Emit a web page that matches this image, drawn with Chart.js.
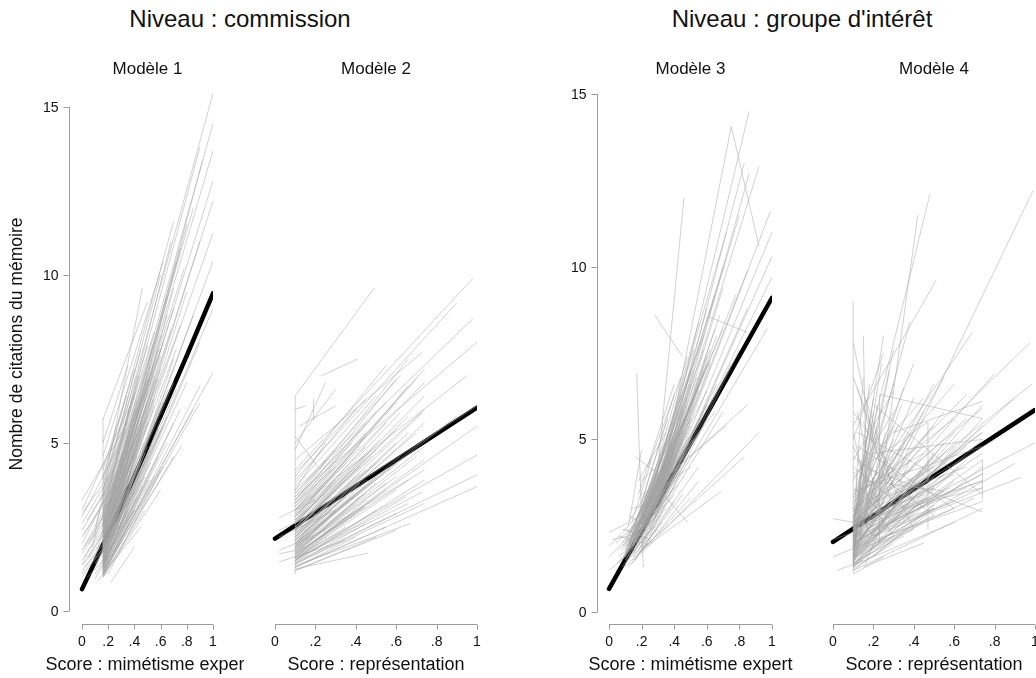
<!DOCTYPE html>
<html>
<head>
<meta charset="utf-8">
<script src="https://cdn.jsdelivr.net/npm/chart.js@4.4.1/dist/chart.umd.min.js"></script>
<style>
  body { margin: 0; background: #fff; }
  #wrap { position: relative; width: 1036px; height: 678px; overflow: hidden; }
  canvas { position: absolute; top: 0; }
  .hdr { position: absolute; top: 7px; width: 400px; text-align: center;
         font: 24px "Liberation Sans", Arial, sans-serif; line-height: 24px; color: #111; }
</style>
</head>
<body>
<div id="wrap">
  <div class="hdr" id="hdr1" style="left:40px"></div>
  <div class="hdr" id="hdr2" style="left:602px"></div>
  <canvas id="p1" width="244" height="678" style="left:0px"></canvas>
  <canvas id="p2" width="296" height="678" style="left:244px"></canvas>
  <canvas id="p3" width="256" height="678" style="left:540px"></canvas>
  <canvas id="p4" width="246" height="678" style="left:790px"></canvas>
</div>
<script>
// axis ticks and labels
const xTicks = [0, 0.2, 0.4, 0.6, 0.8, 1];
const xTickLabels = ['0', '.2', '.4', '.6', '.8', '1'];
const yTicks = [0, 5, 10, 15];
const yTickLabels = ['0', '5', '10', '15'];

const levelTitles = ['Niveau : commission', "Niveau : groupe d'intérêt"];
const modelTitles = ['Modèle 1', 'Modèle 2', 'Modèle 3', 'Modèle 4'];
const xTitles = ['Score : mimétisme expert', 'Score : représentation', 'Score : mimétisme expert', 'Score : représentation'];
const yTitle = 'Nombre de citations du mémoire';

// average predicted curve for each model
const fitX1 = [0, 0.2, 0.4, 0.6, 0.8, 1];
const fitY1 = [0.65, 2.3, 4.0, 5.8, 7.6, 9.45];
const fitX2 = [0, 1];
const fitY2 = [2.15, 6.05];
const fitX3 = [0, 1];
const fitY3 = [0.67, 9.1];
const fitX4 = [0, 1];
const fitY4 = [2.03, 5.85];

// one predicted line per group: [x start, y start, x end, y end]
const seg1 = [
  [0, 3.3, 0.35, 5.6], [0, 2.8, 0.45, 6.2], [0, 2.4, 0.4, 5.0], [0, 2.0, 0.5, 5.8],
  [0, 1.7, 0.38, 3.9], [0, 1.5, 0.45, 4.4], [0, 1.2, 0.3, 2.6], [0, 1.0, 0.35, 2.9],
  [0, 3.0, 0.4, 6.4], [0, 2.6, 0.3, 4.6], [0, 2.2, 0.35, 4.4], [0, 1.8, 0.42, 4.8],
  [0, 1.4, 0.4, 3.5], [0, 1.1, 0.45, 3.2], [0.05, 1.6, 0.35, 3.6], [0.05, 2.0, 0.4, 4.6],
  [0.1, 1.1, 0.4, 3.0], [0.1, 1.4, 0.45, 3.9],
  [0.08, 1.9, 0.46, 9.6], [0.1, 2.5, 0.55, 8.3], [0.1, 1.6, 0.5, 6.9], [0.1, 0.95, 0.5, 3.9],
  [0.1, 1.3, 0.6, 5.4], [0.1, 2.2, 0.6, 7.8], [0.12, 0.9, 0.45, 2.5],
  [0.16, 5.7, 0.5, 9.2], [0.16, 4.6, 0.62, 10.4], [0.16, 3.9, 0.7, 11.6], [0.16, 3.4, 1.0, 15.4],
  [0.16, 3.0, 0.9, 13.8], [0.16, 2.8, 1.0, 14.5], [0.16, 2.6, 0.85, 12.0], [0.16, 2.5, 1.0, 13.7],
  [0.16, 2.3, 0.92, 13.4], [0.16, 2.2, 1.0, 12.8], [0.16, 2.1, 0.8, 11.5], [0.16, 2.0, 1.0, 12.2],
  [0.16, 1.9, 0.75, 10.8], [0.16, 1.85, 1.0, 11.25], [0.16, 1.8, 0.7, 9.6], [0.16, 1.75, 0.9, 11.0],
  [0.16, 1.7, 0.65, 8.8], [0.16, 1.6, 0.8, 9.5], [0.16, 1.55, 1.0, 10.4], [0.16, 1.5, 0.6, 7.6],
  [0.16, 1.45, 0.85, 8.8], [0.16, 1.4, 0.55, 6.6], [0.16, 1.35, 1.0, 9.0], [0.16, 1.3, 0.7, 7.5],
  [0.16, 1.25, 0.9, 8.0], [0.16, 1.2, 0.6, 5.7], [0.16, 1.15, 1.0, 7.1], [0.16, 1.1, 0.75, 6.0],
  [0.16, 1.1, 0.9, 6.2], [0.16, 1.3, 0.5, 4.6], [0.16, 1.5, 0.45, 4.5], [0.16, 1.7, 0.45, 5.4],
  [0.16, 2.0, 0.5, 6.5], [0.16, 2.4, 0.55, 7.4], [0.16, 2.7, 0.6, 8.2], [0.16, 3.2, 0.55, 8.0],
  [0.16, 1.2, 0.76, 4.9], [0.16, 1.0, 0.6, 3.6], [0.16, 1.6, 0.65, 5.8], [0.16, 1.9, 0.7, 6.8],
  [0.16, 2.2, 0.75, 8.5], [0.16, 1.4, 0.8, 6.8], [0.16, 2.5, 0.65, 9.4], [0.16, 3.6, 0.6, 10.0],
  [0.16, 2.9, 0.68, 11.0], [0.16, 1.8, 0.55, 7.0], [0.2, 1.1, 0.62, 4.3], [0.22, 0.85, 0.4, 1.9],
  [0.16, 1.05, 0.9, 6.7], [0.16, 1.13, 0.16, 5.74],
  [0.16, 1.2, 0.42, 3.4], [0.16, 1.3, 0.48, 4.0], [0.16, 1.4, 0.5, 4.9], [0.16, 1.5, 0.52, 5.3],
  [0.16, 1.6, 0.47, 5.0], [0.16, 1.7, 0.55, 6.1], [0.16, 1.8, 0.5, 5.6], [0.16, 1.9, 0.58, 6.9],
  [0.16, 2.0, 0.45, 5.2], [0.16, 2.1, 0.6, 7.2], [0.16, 2.2, 0.5, 6.2], [0.16, 2.3, 0.62, 8.0],
  [0.16, 2.4, 0.48, 6.0], [0.16, 2.5, 0.58, 7.8], [0.16, 2.6, 0.44, 5.8], [0.16, 2.8, 0.52, 7.3],
  [0.16, 3.0, 0.46, 6.4], [0.16, 3.3, 0.5, 7.9], [0.16, 1.15, 0.55, 4.0], [0.16, 1.25, 0.65, 5.0],
  [0.16, 1.35, 0.7, 5.6], [0.16, 1.45, 0.62, 5.5], [0.16, 1.55, 0.72, 6.6], [0.16, 1.65, 0.58, 5.4],
  [0.16, 1.75, 0.66, 6.6], [0.16, 1.85, 0.62, 6.2], [0.16, 1.95, 0.72, 7.8], [0.16, 2.05, 0.55, 6.3],
  [0.16, 2.15, 0.68, 8.4], [0.16, 2.35, 0.7, 9.0], [0.16, 2.45, 0.78, 10.2], [0.16, 2.65, 0.72, 10.4],
  [0.16, 1.05, 0.48, 3.0], [0.16, 1.0, 0.7, 4.6], [0.16, 1.2, 0.85, 6.0], [0.16, 3.8, 0.42, 7.0],
  [0.16, 4.2, 0.4, 7.2], [0.16, 5.0, 0.35, 7.3],
  [0.16, 1.1, 0.4, 3.0], [0.16, 1.2, 0.46, 3.7], [0.16, 1.3, 0.4, 3.6], [0.16, 1.4, 0.44, 4.2],
  [0.16, 1.5, 0.4, 4.0], [0.16, 1.6, 0.42, 4.6], [0.16, 1.7, 0.38, 4.2], [0.16, 1.8, 0.46, 5.6],
  [0.16, 1.9, 0.4, 4.8], [0.16, 2.0, 0.42, 5.5], [0.16, 2.1, 0.38, 4.9], [0.16, 2.2, 0.44, 6.0],
  [0.16, 2.3, 0.4, 5.5], [0.16, 2.5, 0.42, 6.3], [0.16, 2.7, 0.4, 6.0], [0.16, 2.9, 0.44, 7.0],
  [0.16, 3.1, 0.4, 6.5], [0.16, 3.5, 0.45, 7.8], [0.16, 1.35, 0.58, 4.6], [0.16, 1.65, 0.52, 4.8],
  [0.16, 1.95, 0.6, 6.2], [0.16, 2.25, 0.56, 6.9], [0.16, 2.55, 0.52, 7.1], [0.16, 1.05, 0.6, 4.2],
  [0.16, 1.25, 0.52, 3.9],
  [0.16, 1.1, 0.36, 2.6], [0.16, 1.3, 0.34, 3.0], [0.16, 1.5, 0.36, 3.4], [0.16, 1.7, 0.34, 3.6],
  [0.16, 1.9, 0.36, 4.0], [0.16, 2.1, 0.34, 4.2], [0.16, 2.3, 0.36, 4.6], [0.16, 2.5, 0.34, 4.7],
  [0.16, 2.7, 0.36, 5.2], [0.16, 3.0, 0.34, 5.4], [0.16, 3.4, 0.36, 6.0], [0.16, 4.0, 0.34, 6.4],
  [0.02, 1.3, 0.16, 2.0], [0.02, 1.6, 0.16, 2.4], [0.02, 1.9, 0.16, 2.8], [0.02, 2.3, 0.16, 3.2],
  [0.04, 2.7, 0.16, 3.5], [0.04, 1.0, 0.16, 1.5], [0, 1.35, 0.25, 2.5], [0, 2.9, 0.2, 4.0],
  [0.16, 1.4, 0.52, 4.4], [0.16, 1.8, 0.48, 4.7], [0.16, 2.2, 0.46, 5.3], [0.16, 2.6, 0.5, 6.8]
];

const seg2 = [
  [0.1, 6.4, 0.49, 9.6], [0.1, 1.1, 0.1, 6.4], [0.23, 7.0, 0.41, 7.5], [0.19, 5.7, 0.19, 6.3],
  [0.1, 4.8, 0.25, 6.8], [0.1, 4.5, 0.73, 7.7], [0.1, 4.2, 0.98, 9.9], [0.1, 3.9, 0.9, 9.17],
  [0.1, 3.6, 0.98, 8.7], [0.1, 3.4, 1.0, 8.0], [0.1, 3.2, 0.6, 6.9], [0.1, 3.0, 0.5, 5.9],
  [0.1, 2.9, 0.74, 7.2], [0.1, 2.8, 0.45, 5.2], [0.1, 2.7, 0.66, 6.7], [0.1, 2.6, 0.55, 5.6],
  [0.1, 2.5, 0.74, 6.4], [0.1, 2.4, 0.6, 5.4], [0.1, 2.35, 0.48, 4.8], [0.1, 2.3, 0.73, 5.9],
  [0.1, 2.2, 0.42, 4.1], [0.1, 2.15, 0.66, 5.3], [0.1, 2.1, 0.52, 4.5], [0.1, 2.0, 0.74, 5.1],
  [0.1, 1.95, 0.46, 3.9], [0.1, 1.9, 0.6, 4.4], [0.1, 1.85, 0.38, 3.4], [0.1, 1.8, 0.7, 4.6],
  [0.1, 1.75, 0.5, 3.8], [0.1, 1.7, 0.74, 4.2], [0.1, 1.65, 0.55, 3.6], [0.1, 1.6, 0.44, 3.1],
  [0.1, 1.55, 0.73, 3.54], [0.1, 1.5, 0.65, 3.4], [0.1, 1.45, 1.0, 4.05], [0.1, 1.4, 0.6, 2.9],
  [0.1, 1.35, 0.67, 2.6], [0.1, 1.3, 1.0, 3.7], [0.1, 1.25, 0.46, 1.72], [0.1, 1.2, 0.5, 2.2],
  [0.1, 1.7, 1.0, 5.5], [0.1, 1.6, 1.0, 4.64], [0.1, 2.6, 1.0, 6.1], [0.1, 3.0, 0.95, 7.0],
  [0.1, 2.0, 0.9, 5.8], [0.02, 2.77, 0.2, 3.3], [0.02, 1.46, 0.35, 2.1], [0.02, 2.2, 0.3, 3.0],
  [0.02, 1.8, 0.25, 2.4], [0.1, 3.8, 0.4, 6.0], [0.1, 4.0, 0.55, 7.3], [0.1, 3.3, 0.66, 7.5],
  [0.1, 2.4, 0.35, 4.0], [0.1, 2.0, 0.3, 3.3], [0.1, 1.9, 0.66, 3.9], [0.1, 2.7, 0.5, 4.8],
  [0.12, 5.5, 0.3, 6.1], [0.1, 5.2, 0.21, 4.3], [0.1, 6.0, 0.15, 6.1],
  [0.1, 1.5, 0.5, 3.0], [0.1, 1.6, 0.6, 3.6], [0.1, 1.7, 0.45, 3.1], [0.1, 1.8, 0.55, 3.8],
  [0.1, 1.9, 0.5, 4.0], [0.1, 2.0, 0.62, 4.6], [0.1, 2.1, 0.45, 3.9], [0.1, 2.2, 0.7, 5.3],
  [0.1, 2.3, 0.5, 4.4], [0.1, 2.4, 0.66, 5.8], [0.1, 2.5, 0.48, 4.6], [0.1, 2.6, 0.62, 5.9],
  [0.1, 2.7, 0.44, 4.6], [0.1, 2.8, 0.6, 6.2], [0.1, 3.0, 0.7, 6.9], [0.1, 3.1, 0.45, 5.3],
  [0.1, 3.3, 0.55, 6.2], [0.1, 3.5, 0.62, 7.0], [0.1, 3.7, 0.5, 6.4], [0.1, 4.1, 0.45, 6.3],
  [0.1, 1.45, 0.74, 3.9], [0.1, 1.55, 0.66, 3.2], [0.1, 1.65, 0.74, 4.5], [0.1, 1.75, 0.6, 4.0],
  [0.1, 1.85, 0.74, 4.9], [0.1, 1.95, 0.55, 4.2], [0.1, 2.05, 0.74, 5.6], [0.1, 2.25, 0.6, 5.0],
  [0.1, 2.45, 0.74, 6.0], [0.1, 2.65, 0.52, 5.1], [0.1, 2.85, 0.74, 6.8], [0.1, 1.3, 0.55, 2.5],
  [0.1, 1.4, 0.74, 3.2], [0.1, 1.2, 0.6, 2.4], [0.02, 1.7, 0.1, 1.8], [0.02, 2.4, 0.2, 2.9],
  [0.1, 5.0, 0.3, 6.6], [0.1, 3.6, 0.25, 5.0],
  [0.1, 1.5, 0.4, 2.9], [0.1, 1.6, 0.35, 2.8], [0.1, 1.7, 0.4, 3.2], [0.1, 1.8, 0.3, 3.0],
  [0.1, 1.9, 0.4, 3.5], [0.1, 2.0, 0.35, 3.4], [0.1, 2.1, 0.4, 3.7], [0.1, 2.2, 0.3, 3.4],
  [0.1, 2.3, 0.4, 4.0], [0.1, 2.4, 0.3, 3.6], [0.1, 2.5, 0.38, 4.2], [0.1, 2.6, 0.3, 3.9],
  [0.1, 2.8, 0.35, 4.4], [0.1, 3.0, 0.3, 4.3], [0.1, 3.2, 0.38, 5.0], [0.1, 3.4, 0.3, 4.8],
  [0.1, 1.4, 0.45, 2.6], [0.1, 1.3, 0.4, 2.2], [0.1, 1.55, 0.35, 2.5], [0.1, 1.75, 0.45, 3.5],
  [0.1, 1.6, 0.28, 2.5], [0.1, 1.8, 0.26, 2.7], [0.1, 2.0, 0.28, 3.0], [0.1, 2.2, 0.26, 3.1],
  [0.1, 2.4, 0.28, 3.4], [0.1, 2.6, 0.26, 3.5], [0.1, 2.8, 0.28, 3.8], [0.1, 3.0, 0.26, 3.9],
  [0.1, 3.2, 0.28, 4.2], [0.1, 3.5, 0.26, 4.5],
  [0.1, 1.5, 0.45, 3.3], [0.1, 1.7, 0.42, 3.4], [0.1, 1.9, 0.45, 3.7], [0.1, 2.1, 0.42, 3.8],
  [0.1, 2.3, 0.45, 4.2], [0.1, 2.5, 0.42, 4.3], [0.1, 2.7, 0.45, 4.9], [0.1, 2.9, 0.42, 4.9],
  [0.1, 3.1, 0.45, 5.6], [0.1, 3.3, 0.42, 5.4]
];

const seg3 = [
  [0.0, 1.2, 0.1, 1.6], [0.0, 2.3, 0.12, 2.6], [0.0, 1.9, 0.3, 3.4], [0.0, 1.6, 0.25, 2.8],
  [0.02, 2.1, 0.22, 2.3], [0.05, 1.4, 0.35, 3.0], [0.28, 3.2, 0.46, 12.0], [0.75, 14.06, 0.92, 10.6],
  [0.28, 8.6, 0.45, 7.4], [0.61, 8.55, 0.85, 8.1], [0.17, 6.9, 0.21, 1.3],
  [0.3, 3.5, 0.86, 14.5], [0.3, 3.3, 0.75, 14.06], [0.3, 3.4, 0.92, 12.9], [0.28, 3.0, 0.83, 13.0],
  [0.3, 3.2, 0.86, 12.7], [0.32, 3.3, 0.99, 11.6], [0.3, 3.0, 1.0, 11.0], [0.3, 2.9, 1.0, 10.3],
  [0.28, 2.8, 1.0, 9.7], [0.28, 2.7, 0.97, 8.2], [0.25, 2.6, 0.85, 9.9], [0.25, 2.8, 0.8, 11.5],
  [0.22, 2.6, 0.7, 10.0], [0.2, 2.4, 0.65, 9.2], [0.2, 2.5, 0.72, 11.0], [0.22, 2.3, 0.6, 8.8],
  [0.18, 2.2, 0.58, 7.6], [0.18, 2.1, 0.55, 8.4], [0.15, 2.0, 0.5, 6.9], [0.15, 1.9, 0.48, 7.4],
  [0.15, 2.1, 0.62, 7.3], [0.12, 1.8, 0.45, 5.8], [0.12, 1.9, 0.4, 6.3], [0.1, 1.7, 0.42, 5.2],
  [0.1, 1.6, 0.38, 4.8], [0.1, 1.8, 0.52, 6.2], [0.15, 1.7, 0.6, 6.0], [0.2, 2.0, 0.66, 6.6],
  [0.2, 1.9, 0.75, 7.2], [0.25, 2.2, 0.8, 7.6], [0.25, 2.4, 0.85, 8.8], [0.18, 1.8, 0.7, 5.8],
  [0.2, 1.7, 0.92, 5.2], [0.22, 1.9, 0.83, 4.5], [0.2, 1.8, 0.69, 3.5], [0.15, 1.6, 0.55, 4.2],
  [0.15, 1.5, 0.5, 3.3], [0.3, 3.6, 0.48, 2.6], [0.1, 2.0, 0.35, 4.3], [0.12, 2.3, 0.3, 3.8],
  [0.15, 2.4, 0.4, 5.0], [0.18, 2.7, 0.45, 6.0], [0.2, 3.0, 0.5, 7.0], [0.22, 3.3, 0.58, 8.0],
  [0.16, 4.5, 0.3, 4.0], [0.12, 2.6, 0.25, 3.6], [0.18, 3.8, 0.35, 5.2], [0.25, 3.1, 0.6, 6.4],
  [0.28, 3.6, 0.7, 8.2], [0.32, 3.8, 0.78, 9.2], [0.35, 4.0, 0.65, 5.8], [0.15, 2.2, 0.58, 5.4],
  [0.1, 1.4, 0.32, 2.8], [0.25, 2.0, 0.55, 3.8], [0.12, 2.5, 0.2, 4.7], [0.08, 1.9, 0.18, 2.4],
  [0.1, 1.6, 0.35, 3.6], [0.12, 1.7, 0.4, 4.2], [0.14, 1.8, 0.45, 4.9], [0.15, 1.9, 0.42, 4.6],
  [0.16, 2.0, 0.5, 5.6], [0.18, 2.0, 0.45, 5.0], [0.18, 2.1, 0.52, 6.0], [0.2, 2.2, 0.5, 5.4],
  [0.2, 2.3, 0.55, 6.6], [0.22, 2.4, 0.5, 6.0], [0.22, 2.5, 0.6, 7.2], [0.24, 2.5, 0.55, 6.4],
  [0.24, 2.6, 0.62, 7.6], [0.26, 2.7, 0.58, 7.0], [0.26, 2.8, 0.65, 8.2], [0.28, 2.9, 0.6, 7.4],
  [0.28, 3.0, 0.68, 8.6], [0.3, 3.1, 0.62, 7.2], [0.3, 3.2, 0.7, 9.4], [0.32, 3.4, 0.66, 8.0],
  [0.12, 1.9, 0.38, 3.8], [0.14, 2.0, 0.4, 3.6], [0.16, 2.1, 0.48, 4.4], [0.18, 2.2, 0.42, 3.9],
  [0.2, 2.4, 0.48, 4.6], [0.22, 2.6, 0.52, 5.0], [0.24, 2.8, 0.46, 4.4], [0.26, 3.0, 0.56, 5.6],
  [0.28, 3.2, 0.5, 5.0], [0.3, 3.4, 0.6, 6.0], [0.1, 1.5, 0.3, 2.9], [0.12, 1.6, 0.28, 2.5],
  [0.14, 1.4, 0.32, 2.6], [0.16, 1.5, 0.4, 3.2], [0.18, 1.7, 0.45, 3.4], [0.08, 1.3, 0.22, 2.2],
  [0.06, 2.2, 0.2, 2.0], [0.1, 2.4, 0.25, 2.1], [0.2, 3.4, 0.42, 4.0], [0.32, 3.6, 0.5, 4.2],
  [0.35, 3.9, 0.85, 6.0], [0.3, 3.7, 0.72, 5.4],
  [0.1, 1.5, 0.3, 3.2], [0.1, 1.7, 0.28, 3.5], [0.12, 1.8, 0.3, 3.6], [0.12, 2.0, 0.32, 4.0],
  [0.14, 1.9, 0.34, 3.8], [0.14, 2.1, 0.36, 4.4], [0.16, 2.0, 0.38, 4.2], [0.16, 2.2, 0.4, 4.8],
  [0.18, 2.3, 0.38, 4.4], [0.18, 2.4, 0.42, 5.0], [0.2, 2.5, 0.4, 4.6], [0.2, 2.6, 0.44, 5.4],
  [0.22, 2.7, 0.42, 5.0], [0.22, 2.8, 0.46, 5.8], [0.24, 2.9, 0.44, 5.2], [0.24, 3.0, 0.48, 6.2],
  [0.26, 3.1, 0.46, 5.6], [0.26, 3.2, 0.5, 6.6], [0.28, 3.3, 0.48, 6.0], [0.28, 3.4, 0.52, 7.0],
  [0.1, 1.9, 0.3, 2.8], [0.12, 2.1, 0.34, 3.1], [0.14, 2.3, 0.36, 3.5], [0.16, 2.5, 0.38, 3.7],
  [0.18, 2.6, 0.4, 3.9], [0.2, 2.8, 0.44, 4.2], [0.22, 3.0, 0.46, 4.5], [0.24, 3.2, 0.5, 5.0],
  [0.26, 3.4, 0.54, 5.4], [0.3, 3.6, 0.56, 5.2], [0.06, 1.6, 0.26, 2.4], [0.08, 1.8, 0.24, 2.9],
  [0.04, 2.0, 0.2, 2.7], [0.1, 2.2, 0.28, 3.0], [0.14, 1.6, 0.3, 2.4], [0.12, 1.3, 0.26, 2.1],
  [0.08, 1.5, 0.32, 3.2], [0.14, 2.6, 0.26, 4.4], [0.2, 3.2, 0.36, 5.6], [0.3, 4.2, 0.52, 7.6],
  [0.1, 1.6, 0.22, 2.6], [0.1, 1.8, 0.24, 3.0], [0.12, 2.0, 0.26, 3.2], [0.12, 2.2, 0.24, 3.4],
  [0.14, 2.2, 0.28, 3.6], [0.14, 2.4, 0.3, 4.0], [0.16, 2.4, 0.3, 3.9], [0.16, 2.6, 0.32, 4.4],
  [0.18, 2.5, 0.34, 4.2], [0.18, 2.8, 0.34, 4.7], [0.2, 2.6, 0.36, 4.3], [0.2, 2.9, 0.38, 5.1],
  [0.22, 2.9, 0.38, 4.7], [0.22, 3.1, 0.4, 5.5], [0.24, 3.1, 0.4, 4.9], [0.24, 3.3, 0.42, 5.8],
  [0.26, 3.3, 0.44, 5.5], [0.26, 3.5, 0.44, 6.3],
  [0.1, 1.7, 0.4, 3.4], [0.12, 1.9, 0.42, 3.7], [0.14, 2.1, 0.44, 4.1], [0.16, 2.3, 0.46, 4.6],
  [0.18, 2.5, 0.48, 5.2], [0.2, 2.7, 0.5, 5.6], [0.22, 2.9, 0.52, 6.2], [0.24, 3.1, 0.54, 6.8],
  [0.06, 1.8, 0.16, 2.3], [0.08, 2.0, 0.18, 2.6], [0.06, 1.4, 0.2, 2.4], [0.1, 1.3, 0.24, 2.0],
  [0.08, 2.4, 0.2, 2.2], [0.12, 2.8, 0.22, 2.5], [0.14, 3.0, 0.3, 3.2], [0.2, 3.8, 0.38, 4.6],
  [0.24, 4.2, 0.44, 6.8], [0.18, 3.4, 0.4, 6.6]
];

const seg4 = [
  [0.1, 1.13, 0.1, 9.0], [0.12, 3.5, 0.48, 12.1], [0.22, 3.0, 0.42, 11.5], [0.2, 2.6, 0.99, 12.2],
  [0.1, 5.4, 0.51, 9.6], [0.1, 3.0, 0.69, 8.1], [0.1, 2.8, 0.975, 7.8],
  [0.1, 2.5, 0.985, 6.6], [0.1, 2.2, 1.0, 4.9], [0.1, 2.0, 0.93, 3.9], [0.74, 3.25, 0.74, 4.4],
  [0.0, 2.7, 0.2, 2.5], [0.0, 1.6, 0.25, 2.2], [0.0, 2.1, 0.1, 2.3], [0.02, 1.2, 0.15, 1.5],
  [0.1, 1.3, 0.74, 4.2], [0.1, 1.4, 0.6, 3.8], [0.1, 1.5, 0.74, 5.6], [0.1, 1.6, 0.5, 4.5],
  [0.1, 1.7, 0.74, 6.0], [0.1, 1.8, 0.45, 5.8], [0.1, 1.9, 0.74, 3.6], [0.1, 2.0, 0.35, 6.5],
  [0.1, 2.1, 0.62, 5.0], [0.1, 2.2, 0.3, 7.6], [0.1, 2.3, 0.74, 5.2], [0.1, 2.4, 0.55, 6.8],
  [0.1, 2.5, 0.25, 8.0], [0.1, 2.6, 0.66, 5.6], [0.1, 2.7, 0.4, 7.2], [0.1, 1.2, 0.46, 2.8],
  [0.1, 1.5, 0.4, 3.3], [0.1, 1.8, 0.6, 3.0], [0.1, 2.0, 0.3, 4.2], [0.1, 1.4, 0.2, 5.8],
  [0.1, 1.7, 0.18, 6.6], [0.12, 6.5, 0.3, 3.0], [0.15, 5.5, 0.4, 2.4], [0.1, 4.5, 0.5, 2.8],
  [0.2, 6.0, 0.74, 3.4], [0.1, 3.5, 0.74, 4.8], [0.1, 2.9, 0.5, 5.4], [0.1, 3.2, 0.6, 6.6],
  [0.1, 2.3, 0.8, 6.9], [0.1, 2.0, 0.9, 6.2], [0.1, 1.6, 0.7, 3.3], [0.15, 1.3, 0.45, 2.0],
  [0.1, 1.9, 0.35, 3.6], [0.23, 2.0, 0.23, 6.3], [0.47, 2.4, 0.47, 5.5], [0.1, 4.0, 0.47, 5.5],
  [0.1, 2.6, 0.47, 3.3], [0.23, 6.3, 0.74, 5.6], [0.1, 1.3, 0.23, 2.4], [0.1, 3.8, 0.3, 5.8],
  [0.1, 5.0, 0.25, 7.5], [0.1, 7.8, 0.2, 5.0], [0.15, 8.0, 0.17, 2.3], [0.1, 2.2, 0.38, 8.4],
  [0.1, 1.9, 0.55, 4.0], [0.1, 2.1, 0.74, 4.6],
  [0.1, 1.4, 0.3, 4.6], [0.1, 1.5, 0.26, 5.2], [0.1, 1.6, 0.22, 6.0], [0.1, 1.7, 0.28, 7.0],
  [0.1, 1.8, 0.2, 4.8], [0.1, 1.9, 0.32, 5.4], [0.1, 2.0, 0.24, 7.2], [0.1, 2.1, 0.4, 6.2],
  [0.1, 2.2, 0.5, 6.6], [0.1, 2.3, 0.34, 6.0], [0.1, 1.3, 0.5, 3.6], [0.1, 1.4, 0.66, 4.4],
  [0.1, 1.5, 0.55, 4.9], [0.1, 1.6, 0.74, 5.0], [0.1, 1.7, 0.62, 4.2], [0.1, 1.8, 0.74, 5.4],
  [0.1, 1.9, 0.48, 4.0], [0.1, 2.0, 0.74, 4.0], [0.1, 2.1, 0.58, 3.6], [0.1, 2.2, 0.66, 4.8],
  [0.1, 2.4, 0.74, 3.8], [0.1, 2.6, 0.6, 4.4], [0.1, 2.8, 0.74, 5.9], [0.1, 3.0, 0.5, 4.2],
  [0.1, 1.2, 0.74, 3.0], [0.1, 1.35, 0.6, 2.6], [0.1, 1.55, 0.4, 2.4], [0.1, 1.75, 0.3, 2.2],
  [0.1, 5.8, 0.4, 3.2], [0.1, 6.8, 0.3, 3.6], [0.12, 4.8, 0.6, 3.0], [0.15, 4.2, 0.74, 2.9],
  [0.1, 3.4, 0.45, 4.6], [0.1, 2.9, 0.66, 6.3], [0.1, 2.5, 0.8, 5.0], [0.1, 1.65, 0.9, 4.3],
  [0.2, 1.6, 0.5, 3.1], [0.16, 1.4, 0.38, 4.4], [0.3, 5.2, 0.74, 6.1], [0.2, 4.6, 0.74, 5.0],
  [0.1, 1.4, 0.2, 3.6], [0.1, 1.5, 0.16, 4.4], [0.1, 1.6, 0.3, 3.8], [0.1, 1.7, 0.25, 3.2],
  [0.1, 1.8, 0.2, 2.6], [0.1, 1.9, 0.28, 4.5], [0.1, 2.0, 0.2, 3.9], [0.1, 2.1, 0.3, 5.0],
  [0.1, 2.2, 0.18, 5.6], [0.1, 2.3, 0.26, 4.4], [0.1, 2.4, 0.2, 6.2], [0.1, 2.5, 0.36, 5.0],
  [0.1, 2.6, 0.22, 5.4], [0.1, 2.7, 0.3, 6.6], [0.1, 2.8, 0.25, 4.0],
  [0.1, 1.3, 0.4, 2.9], [0.1, 1.45, 0.45, 3.6], [0.1, 1.6, 0.5, 3.9], [0.1, 1.75, 0.55, 4.6],
  [0.1, 1.9, 0.6, 5.2], [0.1, 2.05, 0.5, 3.2], [0.1, 2.2, 0.45, 4.2], [0.1, 2.35, 0.6, 4.0],
  [0.1, 2.5, 0.55, 5.8], [0.1, 2.65, 0.45, 3.4],
  [0.1, 3.6, 0.3, 2.6], [0.1, 4.2, 0.35, 3.0], [0.1, 4.8, 0.25, 2.8], [0.1, 3.0, 0.2, 2.2],
  [0.12, 5.2, 0.5, 4.0], [0.16, 3.8, 0.55, 3.5], [0.2, 3.2, 0.66, 4.2], [0.24, 2.8, 0.74, 3.8],
  [0.3, 2.6, 0.6, 4.8], [0.3, 3.4, 0.74, 5.2],
  [0.1, 1.25, 0.3, 2.0], [0.1, 1.35, 0.2, 1.9], [0.12, 1.5, 0.35, 2.2], [0.1, 1.1, 0.25, 1.6],
  [0.1, 3.3, 0.6, 5.6], [0.1, 3.9, 0.45, 6.2], [0.1, 4.4, 0.3, 6.4], [0.2, 2.2, 0.74, 4.4],
  [0.25, 2.4, 0.6, 3.2], [0.35, 3.0, 0.74, 3.6],
  [0.1, 1.5, 0.3, 3.0], [0.1, 1.6, 0.35, 3.3], [0.1, 1.7, 0.4, 3.5], [0.1, 1.8, 0.3, 3.4],
  [0.1, 1.9, 0.4, 3.9], [0.1, 2.0, 0.36, 4.4], [0.1, 2.1, 0.26, 3.6], [0.1, 2.2, 0.4, 5.2],
  [0.1, 2.3, 0.3, 4.0], [0.1, 2.4, 0.44, 4.8], [0.1, 2.5, 0.3, 3.2], [0.1, 2.6, 0.4, 4.2],
  [0.1, 2.7, 0.2, 4.2], [0.1, 2.9, 0.35, 4.8], [0.1, 3.1, 0.3, 5.4], [0.1, 3.3, 0.2, 5.2],
  [0.1, 1.4, 0.45, 2.6], [0.1, 1.6, 0.5, 3.0], [0.1, 1.8, 0.45, 3.1], [0.1, 2.0, 0.55, 3.5],
  [0.1, 2.2, 0.5, 3.0], [0.1, 2.4, 0.45, 3.7], [0.1, 2.6, 0.5, 3.6], [0.1, 2.8, 0.45, 4.0],
  [0.1, 1.3, 0.16, 3.0], [0.1, 1.5, 0.14, 3.8], [0.1, 1.8, 0.16, 5.0], [0.1, 2.1, 0.14, 4.4],
  [0.1, 2.4, 0.15, 6.8], [0.1, 1.6, 0.12, 4.0],
  [0.12, 5.8, 0.22, 3.2], [0.12, 4.4, 0.26, 2.4], [0.14, 3.6, 0.3, 2.2], [0.1, 5.2, 0.2, 2.6],
  [0.16, 6.2, 0.28, 4.0],
  [0.2, 1.9, 0.5, 2.8], [0.2, 2.4, 0.66, 3.6], [0.26, 2.2, 0.74, 3.2], [0.3, 3.0, 0.5, 4.6],
  [0.36, 2.8, 0.74, 4.0]
];

Chart.defaults.font.family = '"Liberation Sans", Arial, sans-serif';
Chart.defaults.color = '#111';

document.getElementById('hdr1').textContent = levelTitles[0];
document.getElementById('hdr2').textContent = levelTitles[1];

// Stata-like axes: lines only over the tick range, set off from the plot region
const stataAxes = {
  id: 'stataAxes',
  afterDraw(chart, args, opts) {
    const { ctx, chartArea } = chart;
    const xs = chart.scales.x, ys = chart.scales.y;
    ctx.save();
    ctx.strokeStyle = '#9c9c9c';
    ctx.lineWidth = 1;
    ctx.fillStyle = '#111';

    const xb = Math.round(chartArea.bottom) + 0.5;
    ctx.beginPath();
    ctx.moveTo(xs.getPixelForValue(xTicks[0]), xb);
    ctx.lineTo(xs.getPixelForValue(xTicks[xTicks.length - 1]), xb);
    xTicks.forEach(v => {
      const px = Math.round(xs.getPixelForValue(v)) + 0.5;
      ctx.moveTo(px, xb);
      ctx.lineTo(px, xb + 5);
    });
    ctx.stroke();
    ctx.font = '14px "Liberation Sans", Arial, sans-serif';
    ctx.textAlign = 'center';
    ctx.textBaseline = 'alphabetic';
    xTicks.forEach((v, i) => ctx.fillText(xTickLabels[i], xs.getPixelForValue(v), xb + 21));

    if (opts.showY) {
      const yl = Math.round(chartArea.left) + 0.5;
      ctx.beginPath();
      ctx.moveTo(yl, ys.getPixelForValue(yTicks[0]));
      ctx.lineTo(yl, ys.getPixelForValue(yTicks[yTicks.length - 1]));
      yTicks.forEach(v => {
        const py = Math.round(ys.getPixelForValue(v)) + 0.5;
        ctx.moveTo(yl, py);
        ctx.lineTo(yl - 6, py);
      });
      ctx.stroke();
      ctx.textAlign = 'right';
      ctx.textBaseline = 'middle';
      yTicks.forEach((v, i) => ctx.fillText(yTickLabels[i], yl - 11, ys.getPixelForValue(v) + 1));
    }

    if (opts.yTitle) {
      ctx.save();
      ctx.translate(17, 344);
      ctx.rotate(-Math.PI / 2);
      ctx.font = '17.5px "Liberation Sans", Arial, sans-serif';
      ctx.textAlign = 'center';
      ctx.textBaseline = 'middle';
      ctx.fillText(opts.yTitle, 0, 0);
      ctx.restore();
    }

    const xc = xs.getPixelForValue(0.5);
    ctx.textAlign = 'center';
    ctx.textBaseline = 'alphabetic';
    ctx.font = '18px "Liberation Sans", Arial, sans-serif';
    ctx.fillText(opts.xTitle, xc, 670);
    ctx.font = '17px "Liberation Sans", Arial, sans-serif';
    ctx.fillText(opts.title, xc, 74);
    ctx.restore();
  }
};

function makePanel(id, segs, fitX, fitY, o) {
  const greys = segs.map(s => ({
    data: [{ x: s[0], y: s[1] }, { x: s[2], y: s[3] }],
    borderColor: '#a3a3a3',
    borderWidth: 0.5
  }));
  // the average curve goes last so it is painted first, under the grey lines
  const fit = {
    data: fitX.map((x, i) => ({ x: x, y: fitY[i] })),
    borderColor: '#000',
    borderWidth: 4.5,
    borderCapStyle: 'round',
    borderJoinStyle: 'round'
  };
  return new Chart(document.getElementById(id), {
    type: 'scatter',
    data: { datasets: greys.concat([fit]) },
    plugins: [stataAxes],
    options: {
      responsive: false,
      animation: false,
      events: [],
      showLine: true,
      elements: { point: { radius: 0 }, line: { tension: 0 } },
      layout: { padding: o.padding },
      scales: {
        x: { type: 'linear', display: false, min: o.xMin, max: 1 },
        y: { type: 'linear', display: false, min: o.yMin, max: o.yMax }
      },
      plugins: {
        legend: { display: false },
        tooltip: { enabled: false },
        stataAxes: { showY: o.showY, yTitle: o.yTitle, title: o.title, xTitle: o.xTitle }
      }
    }
  });
}

makePanel('p1', seg1, fitX1, fitY1, {
  xMin: -0.1, yMin: -0.4, yMax: 15.8, showY: true, yTitle: yTitle,
  padding: { left: 68.9, right: 31, top: 80, bottom: 53.6 },
  title: modelTitles[0], xTitle: xTitles[0]
});
makePanel('p2', seg2, fitX2, fitY2, {
  xMin: -0.1, yMin: -0.4, yMax: 15.8, showY: false,
  padding: { left: 10.8, right: 63, top: 80, bottom: 53.6 },
  title: modelTitles[1], xTitle: xTitles[1]
});
makePanel('p3', seg3, fitX3, fitY3, {
  xMin: -0.075, yMin: -0.35, yMax: 15.4, showY: true,
  padding: { left: 56.8, right: 24, top: 80.2, bottom: 53.9 },
  title: modelTitles[2], xTitle: xTitles[2]
});
makePanel('p4', seg4, fitX4, fitY4, {
  xMin: -0.1, yMin: -0.35, yMax: 15.4, showY: false,
  padding: { left: 22.8, right: 1, top: 80.2, bottom: 53.9 },
  title: modelTitles[3], xTitle: xTitles[3]
});
</script>
</body>
</html>
